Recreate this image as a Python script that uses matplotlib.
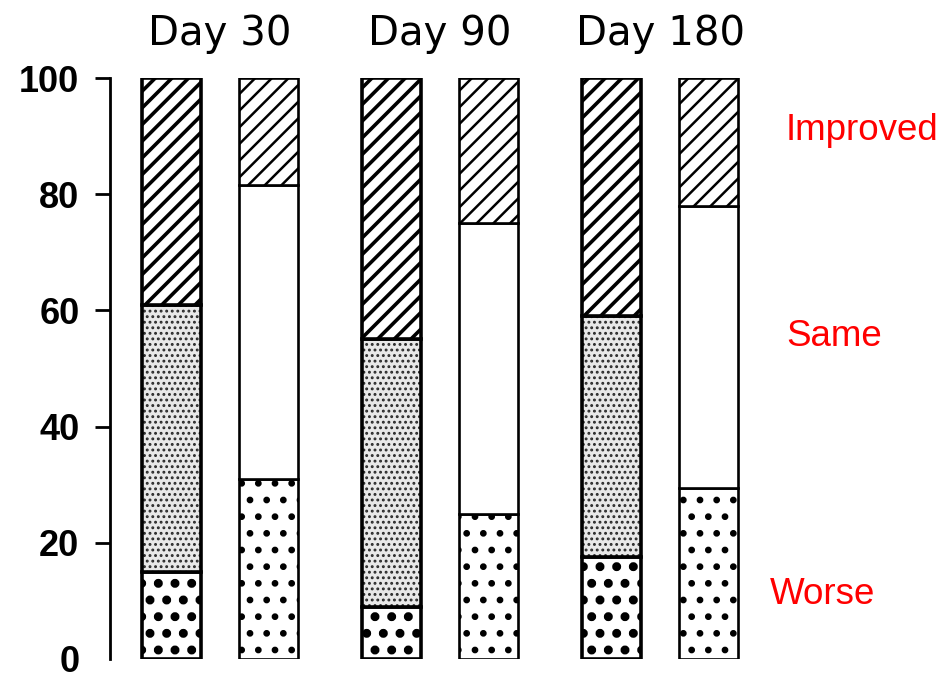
import matplotlib
matplotlib.use("Agg")
import matplotlib.pyplot as plt
import numpy as np

days = ["Day 30", "Day 90", "Day 180"]
categories = ["Worse", "Same", "Improved"]
# values per group: [bar A, bar B]
worse_a = [15, 9, 17.5]
same_a = [46, 46, 41.5]
improved_a = [39, 45, 41]
worse_b = [31, 25, 29.5]
same_b = [50.5, 50, 48.5]
improved_b = [18.5, 25, 22]
yticks = [0, 20, 40, 60, 80, 100]

plt.rcParams['hatch.linewidth'] = 2.2
plt.rcParams['font.family'] = ['DejaVu Sans']

fig = plt.figure(figsize=(9.44, 6.8), dpi=100)
ax = fig.add_axes([110/944, (680-659)/680, (770-110)/944, (659-78)/680])

x = np.arange(len(days))
off = 0.22
w = 0.27


def hlw(bars, v):
    for p in bars:
        if hasattr(p, 'set_hatch_linewidth'):
            p.set_hatch_linewidth(v)


# bar A (left in each group)
bot_same_a = np.array(worse_a)
bot_imp_a = np.array(worse_a) + np.array(same_a)
b = ax.bar(x - off, worse_a, w, color='white', edgecolor='black', linewidth=2.6, hatch='.')
hlw(b, 4.0)
b = ax.bar(x - off, same_a, w, bottom=bot_same_a, color='#e8e8e8', edgecolor='#2a2a2a',
           linewidth=0, hatch='...')
hlw(b, 1.3)
ax.bar(x - off, same_a, w, bottom=bot_same_a, color='none', edgecolor='black', linewidth=2.6)
b = ax.bar(x - off, improved_a, w, bottom=bot_imp_a, color='white', edgecolor='black',
           linewidth=2.6, hatch='//')
hlw(b, 2.6)

# bar B (right in each group)
bot_same_b = np.array(worse_b)
bot_imp_b = np.array(worse_b) + np.array(same_b)
b = ax.bar(x + off, worse_b, w, color='white', edgecolor='black', linewidth=1.9, hatch='.')
hlw(b, 2.4)
ax.bar(x + off, same_b, w, bottom=bot_same_b, color='white', edgecolor='black', linewidth=1.9)
b = ax.bar(x + off, improved_b, w, bottom=bot_imp_b, color='white', edgecolor='black',
           linewidth=1.9, hatch='//')
hlw(b, 1.8)

ax.set_ylim(0, 100)
ax.set_xlim(-0.5, 2.5)
ax.set_yticks(yticks)
ax.set_yticklabels([str(t) for t in yticks], fontsize=26, family='Liberation Sans',
                   fontweight='bold')
ax.tick_params(axis='y', length=11, width=2, pad=11)
ax.yaxis.get_major_ticks()[0].tick1line.set_visible(False)
ax.set_xticks([])
for s in ['top', 'right', 'bottom']:
    ax.spines[s].set_visible(False)
ax.spines['left'].set_linewidth(2)
ax.spines['left'].set_bounds(0, 100)

for xi, d in zip(x, days):
    ax.text(xi, 105.7, d, ha='center', va='baseline', fontsize=29)

fig.text(786/944, 1 - 130/680, "Improved", color='red', fontsize=26.5,
         family='Liberation Sans', ha='left', va='center')
fig.text(786/944, 1 - 337/680, "Same", color='red', fontsize=26.5,
         family='Liberation Sans', ha='left', va='center')
fig.text(770/944, 1 - 594/680, "Worse", color='red', fontsize=26.5,
         family='Liberation Sans', ha='left', va='center')

fig.savefig("out.png", dpi=100)
